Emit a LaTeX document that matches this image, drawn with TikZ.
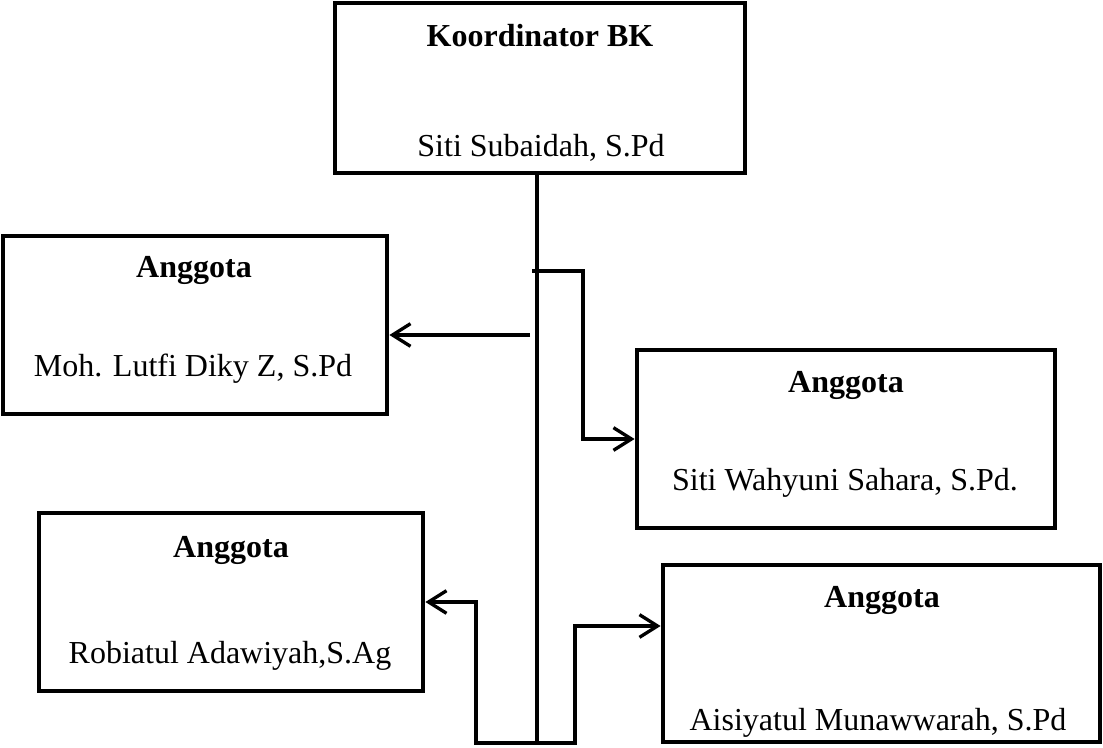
\documentclass[tikz,border=0pt]{standalone}
\usepackage{fontspec}
\setmainfont{Liberation Serif}
\usetikzlibrary{arrows.meta}
\begin{document}
\begin{tikzpicture}[x=0.75pt,y=-0.75pt,
  box/.style={draw,rectangle,line width=3.6pt,inner sep=0pt},
  lbl/.style={anchor=base,inner sep=0pt,font=\fontsize{24}{28}\selectfont},
  ttl/.style={lbl,font=\fontsize{24}{28}\selectfont\bfseries},
  conn/.style={line width=2.5pt},
  arr/.style={conn,-{Straight Barb[length=13.5pt,width=17pt]}}]
\useasboundingbox (0,0) rectangle (1103,748);
% boxes
\node[box,minimum width=307.5pt,minimum height=127.5pt] (K) at (540,88) {};
\node[box,minimum width=288pt,minimum height=133.5pt] (L1) at (195,325) {};
\node[box,minimum width=313.5pt,minimum height=133.5pt] (R1) at (846,439) {};
\node[box,minimum width=288pt,minimum height=133.5pt] (L2) at (231,602) {};
\node[box,minimum width=327.75pt,minimum height=132.75pt] (R2) at (881.5,653.5) {};
% texts
\node[ttl] (Kt) at (540,47) {Koordinator BK};
\node[lbl] (Kn) at (541,157) {Siti Subaidah, S.Pd};
\node[ttl] (L1t) at (194,278) {Anggota};
\node[lbl] (L1n) at (193,377) {Moh. Lutfi Diky Z, S.Pd};
\node[ttl] (R1t) at (846,393) {Anggota};
\node[lbl] (R1n) at (845,490) {Siti Wahyuni Sahara, S.Pd.};
\node[ttl] (L2t) at (231,557) {Anggota};
\node[lbl] (L2n) at (230,663) {Robiatul Adawiyah,S.Ag};
\node[ttl] (R2t) at (882,607) {Anggota};
\node[lbl] (R2n) at (878,730) {Aisiyatul Munawwarah, S.Pd};
% connector coordinates
\coordinate (tb) at (537,743);
\coordinate (a1) at (530,335);
\coordinate (c1) at (532,271);
\coordinate (c1b) at (583,0);
\coordinate (c2) at (476,0);
\coordinate (c3) at (575,626);
% connectors
\draw[conn] (K.south -| tb) -- (tb);
\draw[arr] (a1) -- (a1 -| L1.east);
\draw[arr] (c1) -| (c1b |- R1.west) -- (R1.west);
\draw[arr] (tb) -| (c2 |- L2.east) -- (L2.east);
\draw[arr] (tb) -| (c3) -- (c3 -| R2.west);
\end{tikzpicture}
\end{document}
